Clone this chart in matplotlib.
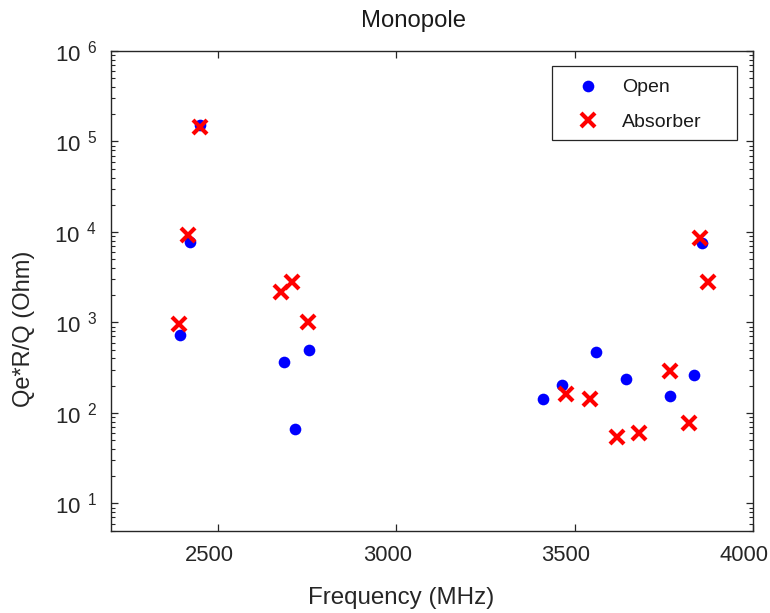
import math
import matplotlib
matplotlib.use("Agg")
import matplotlib.pyplot as plt
from matplotlib.patches import Rectangle
from matplotlib.transforms import ScaledTranslation
from matplotlib.ticker import FixedLocator, LogLocator, FuncFormatter, NullFormatter

plt.rcParams['font.family'] = ['Liberation Sans', 'DejaVu Sans']
plt.rcParams['mathtext.fontset'] = 'custom'
plt.rcParams['mathtext.rm'] = 'Liberation Sans'

# Monopole modes: external Q times R/Q versus frequency
open_freq = [2393, 2421, 2449, 2685, 2716, 2755, 3411, 3463, 3559, 3643, 3766, 3835, 3857]
open_qe = [721, 7840, 153000, 370, 66.8, 492, 141, 203, 472, 238, 153, 263, 7500]

abs_freq = [2390, 2417, 2449, 2676, 2706, 2753, 3474, 3541, 3617, 3679, 3767, 3820, 3850, 3872]
abs_qe = [953, 9360, 142800, 2160, 2770, 1020, 163, 143, 54, 60, 292, 77, 8670, 2770]

x_ticks = [2500, 3000, 3500, 4000]
y_ticks = [1e1, 1e2, 1e3, 1e4, 1e5, 1e6]

fig = plt.figure(figsize=(7.70, 6.13), dpi=100)
ax = fig.add_axes([111 / 770, 1 - 530.7 / 613, (753.3 - 111) / 770, (530.7 - 51) / 613])

ax.plot(open_freq, open_qe, linestyle='none', marker='o', markersize=8.4,
        color='#0000ff', markeredgewidth=0, label='Open')
ax.plot(abs_freq, abs_qe, linestyle='none', marker='x', markersize=10.5,
        color='#ff0000', markeredgewidth=3, label='Absorber')

ax.set_yscale('log')
ax.set_xlim(2200, 4000)
ax.set_ylim(5, 1e6)

ax.xaxis.set_major_locator(FixedLocator(x_ticks))
ax.yaxis.set_major_locator(FixedLocator(y_ticks))
ax.yaxis.set_minor_locator(LogLocator(base=10, subs=range(2, 10), numticks=20))
ax.yaxis.set_minor_formatter(NullFormatter())


def dec_label(v, pos):
    exp = int(round(math.log10(v)))
    return r'$\mathregular{10^{\enspace %d}}$' % exp


ax.yaxis.set_major_formatter(FuncFormatter(dec_label))

axis_col = '#262626'
for sp in ax.spines.values():
    sp.set_color(axis_col)
    sp.set_linewidth(1.0)

ax.tick_params(which='both', direction='in', top=True, right=True,
               color=axis_col, labelcolor=axis_col)
ax.tick_params(which='major', length=5, width=0.9)
ax.tick_params(which='minor', length=3, width=0.8)
ax.tick_params(axis='x', which='major', pad=10, labelsize=15.8)
ax.tick_params(axis='y', which='major', pad=10, labelsize=16)

# x tick labels sit slightly left of their ticks
shift = ScaledTranslation(-9 / 100, 0, fig.dpi_scale_trans)
for lbl in ax.get_xticklabels():
    lbl.set_transform(lbl.get_transform() + shift)

ax.set_title('Monopole', fontsize=17.2, color='#1a1a1a', pad=17.5, x=0.471)
ax.set_xlabel('Frequency (MHz)', fontsize=17.4, color='#262626')
ax.xaxis.set_label_coords(0.451, -0.118)
ax.set_ylabel('Qe*R/Q (Ohm)', fontsize=17, color='#262626')
ax.yaxis.set_label_coords(-0.1183, 0.421)

# legend entries without their own frame; the box is drawn separately
leg = ax.legend(loc='upper left',
                bbox_to_anchor=((572 - 111) / 642.3, 1 - (78.8 - 51) / 479.7),
                fontsize=14, frameon=False, borderpad=0, borderaxespad=0,
                handlelength=1.6, handletextpad=0.96, labelspacing=0.88)
for t in leg.get_texts():
    t.set_color('#1a1a1a')
ax.add_patch(Rectangle(((552.3 - 111) / 642.3, 1 - (140 - 51) / 479.7),
                       185 / 642.3, (140 - 65.7) / 479.7,
                       transform=ax.transAxes, facecolor='white',
                       edgecolor=axis_col, linewidth=0.9, zorder=4))
leg.set_zorder(5)

fig.savefig('out.png', dpi=100)
